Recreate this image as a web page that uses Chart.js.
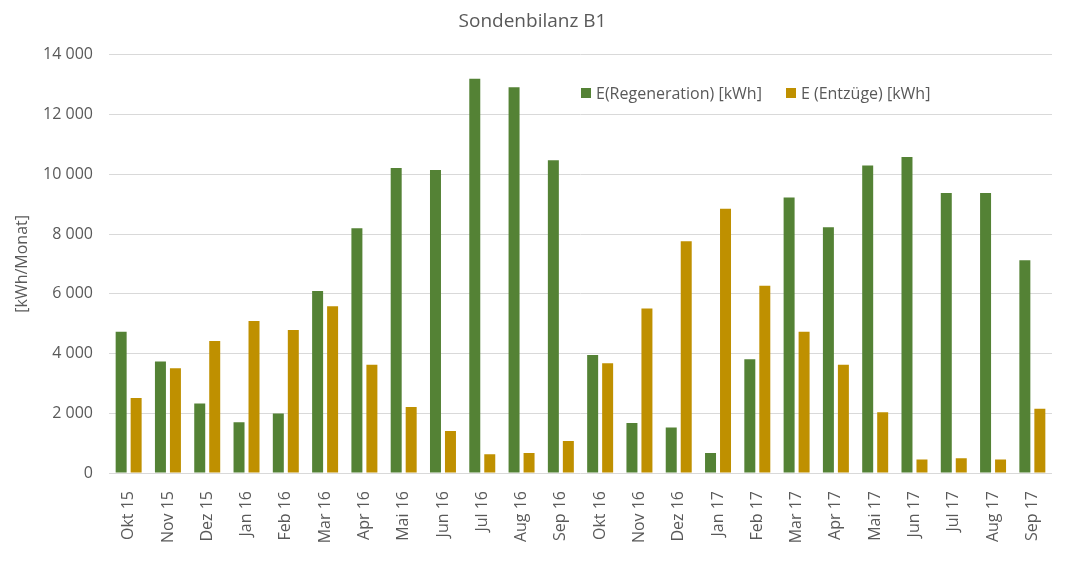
<!DOCTYPE html>
<html lang="de">
<head>
    <meta charset="UTF-8">
    <title>Sondenbilanz B1</title>
    <script src="https://cdn.jsdelivr.net/npm/chart.js"></script>
    <style>
        body { margin: 0; background: #fff; }
        #wrap { position: relative; width: 1065px; height: 566px; }
        #legend {
            position: absolute; left: 581px; top: 83px;
            font-family: "Open Sans", sans-serif; font-size: 16px; color: #595959;
            display: flex; align-items: center; line-height: 20px;
        }
        .item { display: flex; align-items: center; margin-right: 24px; }
        .box { width: 10px; height: 10px; margin-right: 5px; }
    </style>
</head>
<body>
    <div id="wrap">
        <canvas id="chart" width="1065" height="566"></canvas>
        <div id="legend"></div>
    </div>

    <script>
        // Monate (Okt 15 - Sep 17)
        const months = ['Okt 15', 'Nov 15', 'Dez 15', 'Jan 16', 'Feb 16', 'Mar 16', 'Apr 16', 'Mai 16',
            'Jun 16', 'Jul 16', 'Aug 16', 'Sep 16', 'Okt 16', 'Nov 16', 'Dez 16', 'Jan 17',
            'Feb 17', 'Mar 17', 'Apr 17', 'Mai 17', 'Jun 17', 'Jul 17', 'Aug 17', 'Sep 17'];

        const regeneration = [4730, 3730, 2330, 1700, 1990, 6090, 8190, 10210, 10140, 13200, 12910, 10470,
            3950, 1670, 1520, 670, 3810, 9220, 8230, 10290, 10580, 9370, 9370, 7120];
        const entzuege = [2510, 3510, 4420, 5090, 4790, 5580, 3620, 2210, 1410, 630, 670, 1070,
            3670, 5510, 7760, 8850, 6270, 4730, 3620, 2030, 450, 490, 450, 2150];

        const seriesNames = ['E(Regeneration) [kWh]', 'E (Entzüge) [kWh]'];
        const seriesColors = ['#548235', '#BF9000'];
        const yTicks = [0, 2000, 4000, 6000, 8000, 10000, 12000, 14000];

        const grey = '#595959';
        const font = 'Open Sans';

        // Tausender mit Leerzeichen
        function fmt(v) {
            return String(v).replace(/\B(?=(\d{3})+(?!\d))/g, ' ');
        }

        const chart = new Chart(document.getElementById('chart'), {
            type: 'bar',
            data: {
                labels: months,
                datasets: [
                    { label: seriesNames[0], data: regeneration, backgroundColor: seriesColors[0] },
                    { label: seriesNames[1], data: entzuege, backgroundColor: seriesColors[1] }
                ]
            },
            options: {
                responsive: false,
                animation: false,
                devicePixelRatio: 1,
                categoryPercentage: 0.763,
                barPercentage: 0.733,
                layout: { padding: { left: 13, right: 13, top: 0, bottom: 0 } },
                plugins: {
                    legend: { display: false },
                    tooltip: { enabled: false },
                    title: {
                        display: true,
                        text: 'Sondenbilanz B1',
                        color: grey,
                        font: { family: font, size: 19, weight: 'normal' },
                        padding: { top: 10, bottom: 22 }
                    }
                },
                scales: {
                    x: {
                        grid: { display: false },
                        border: { display: false },
                        ticks: {
                            color: grey,
                            font: { family: font, size: 16 },
                            minRotation: 90,
                            maxRotation: 90,
                            autoSkip: false,
                            padding: 10
                        },
                        afterFit: (scale) => { scale.height = 93; }
                    },
                    y: {
                        min: 0,
                        max: 14000,
                        grid: { color: '#d9d9d9', lineWidth: 1, drawTicks: false },
                        border: { display: false },
                        afterBuildTicks: (scale) => { scale.ticks = yTicks.map(v => ({ value: v })); },
                        ticks: {
                            color: grey,
                            font: { family: font, size: 16 },
                            padding: 16,
                            callback: (v) => fmt(v)
                        },
                        title: {
                            display: true,
                            text: '[kWh/Monat]',
                            color: grey,
                            font: { family: font, size: 16 },
                            padding: { top: 0, bottom: 0 }
                        },
                        afterFit: (scale) => { scale.width = 96; }
                    }
                }
            }
        });

        // Legende im Diagrammbereich
        const legend = document.getElementById('legend');
        seriesNames.forEach((name, i) => {
            const item = document.createElement('div');
            item.className = 'item';
            const box = document.createElement('span');
            box.className = 'box';
            box.style.background = seriesColors[i];
            item.appendChild(box);
            item.appendChild(document.createTextNode(name));
            legend.appendChild(item);
        });
    </script>
</body>
</html>
